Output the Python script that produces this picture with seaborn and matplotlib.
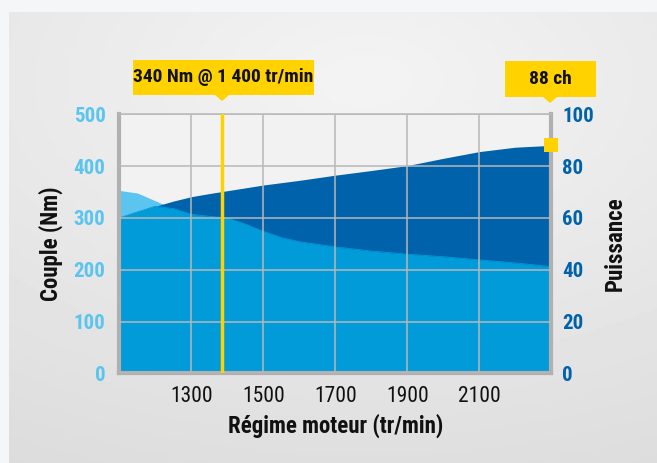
import numpy as np
import pandas as pd
import seaborn as sns
import matplotlib.pyplot as plt
from matplotlib.patches import Rectangle, Polygon

sns.set_theme(style="white")
plt.rcParams['font.family'] = ['Roboto Condensed', 'Liberation Sans Narrow', 'DejaVu Sans']
plt.rcParams['font.stretch'] = 'condensed'

# Values
regime = [1100, 1150, 1200, 1250, 1300, 1350, 1400, 1450, 1500, 1550, 1600,
          1700, 1800, 1900, 2000, 2100, 2200, 2300]
couple = [353, 348, 333, 318, 307, 303, 300, 288, 274, 262, 254,
          244, 236, 230, 225, 219, 213, 206]
puissance = [60, 62.3, 64.5, 66.5, 68.2, 69.4, 70.5, 71.6, 72.7, 73.6, 74.5,
             76.5, 78.3, 80.2, 83.0, 85.6, 87.3, 88.0]

xticks = [1300, 1500, 1700, 1900, 2100]
couple_ticks = [0, 100, 200, 300, 400, 500]
puissance_ticks = [0, 20, 40, 60, 80, 100]

pic_regime = 1386
pic_label = "340 Nm @ 1 400 tr/min"
max_label = "88 ch"

df = pd.DataFrame({'regime': regime, 'couple': couple, 'puissance': puissance})
# power drawn on the torque scale (100 ch <-> 500 Nm)
df['puissance_nm'] = df['puissance'] * 5
df['commun'] = df[['couple', 'puissance_nm']].min(axis=1)

light_blue = '#5bc4ef'
mid_blue = '#009bd8'
dark_blue = '#0062aa'
yellow = '#ffd200'
grid_grey = '#b8b8b8'

W, H = 657, 463
fig = plt.figure(figsize=(W / 100, H / 100), dpi=100)
fig.patch.set_facecolor('#f5f6f8')

def fx(px):
    return px / W

def fy(py):
    return 1 - py / H

# grey card with soft gradient
bg = fig.add_axes([fx(9), 0, 1 - fx(9), fy(12)], zorder=-5)
gx, gy = np.meshgrid(np.linspace(0, 1, 200), np.linspace(0, 1, 140))
r = np.sqrt(((gx - 0.55) * 1.0) ** 2 + ((gy - 0.15) * 1.2) ** 2)
shade = 0.955 - 0.08 * r
bg.imshow(shade, cmap='gray', vmin=0, vmax=1, aspect='auto', extent=[0, 1, 0, 1])
bg.set_axis_off()

ax = fig.add_axes([fx(119.4), fy(373.3), fx(551.3) - fx(119.4), fy(114.3) - fy(373.3)])
ax.set_facecolor('#f2f2f2')

ax.fill_between(df['regime'], 0, df['couple'], color=light_blue, lw=0, zorder=1)
ax.fill_between(df['regime'], 0, df['puissance_nm'], color=dark_blue, lw=0, zorder=1.1)
ax.fill_between(df['regime'], 0, df['commun'], color=mid_blue, lw=0, zorder=1.2)
sns.lineplot(data=df, x='regime', y='commun', ax=ax, color=mid_blue, lw=0.6, zorder=1.3)

ax.set_xlim(1100, 2300)
ax.set_ylim(0, 500)
ax.set_xticks(xticks)
ax.set_yticks(couple_ticks)
ax.set_axisbelow(False)
ax.grid(True, color=grid_grey, lw=1.1)
for side in ['left', 'bottom', 'right']:
    ax.spines[side].set_color('#b0b0b0')
    ax.spines[side].set_linewidth(3)
ax.spines['top'].set_color(grid_grey)
ax.spines['top'].set_linewidth(1.1)

ax.tick_params(axis='both', length=0)
ax.tick_params(axis='y', pad=10, labelsize=15, labelcolor=light_blue)
ax.tick_params(axis='x', pad=9, labelsize=15.5, labelcolor='#111111')
for t in ax.get_yticklabels():
    t.set_fontweight('bold')

ax.set_xlabel('Régime moteur (tr/min)', fontsize=16.5, fontweight='bold', color='#111111', labelpad=5)
ax.set_ylabel('Couple (Nm)', fontsize=16.5, fontweight='bold', color='#111111', labelpad=8)

ax.axvline(pic_regime, color=yellow, lw=2.5, zorder=3)

ax2 = ax.twinx()
ax2.set_ylim(0, 100)
ax2.set_yticks(puissance_ticks)
ax2.tick_params(axis='y', length=0, pad=8, labelsize=15, labelcolor=dark_blue)
for t in ax2.get_yticklabels():
    t.set_fontweight('bold')
for s in ax2.spines.values():
    s.set_visible(False)
ax2.set_ylabel('Puissance', fontsize=16.5, fontweight='bold', color='#111111', labelpad=7)
ax2.scatter([regime[-1]], [puissance[-1]], marker='s', s=100, color=yellow,
            zorder=5, clip_on=False, linewidths=0)

# yellow call-out boxes
def callout(x0, x1, y0, y1, tip_x, text):
    fig.add_artist(Rectangle((fx(x0), fy(y1)), fx(x1) - fx(x0), fy(y0) - fy(y1),
                             transform=fig.transFigure, fc=yellow, ec='none'))
    fig.add_artist(Polygon([[fx(tip_x - 7.5), fy(y1 - 0.5)], [fx(tip_x + 7.5), fy(y1 - 0.5)],
                            [fx(tip_x), fy(y1 + 6)]],
                           transform=fig.transFigure, fc=yellow, ec='none'))
    fig.text(fx((x0 + x1) / 2), fy((y0 + y1) / 2), text, ha='center', va='center',
             fontsize=14, fontweight='bold', color='#111111')

callout(133, 314, 60, 95, 222, pic_label)
callout(505, 596, 61, 97, 550, max_label)

fig.savefig('out.png', dpi=100, facecolor=fig.get_facecolor())
